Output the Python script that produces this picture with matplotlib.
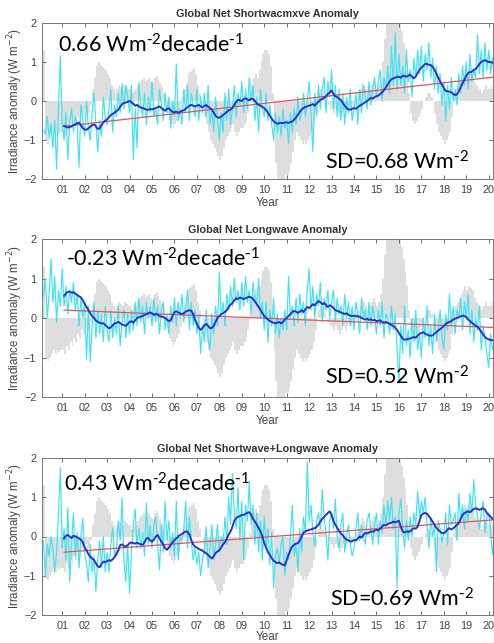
import numpy as np
import matplotlib
matplotlib.use("Agg")
import matplotlib.pyplot as plt

plt.rcParams["font.family"] = ["Liberation Sans", "DejaVu Sans"]

# monthly series start in March 2000; running means start in February 2001
start_year = 2000 + 2 / 12
mean_offset = 11

# ENSO-type index drawn as the grey background (same in every panel)
enso = [
    1.3, -1.0, -1.1, -1.0, -0.9, -0.8, -0.9, -0.8, -0.85, -0.8,
    -0.8, -0.9, -0.7, -0.8, -0.6, -0.7, -0.5, -0.6, -0.4, -0.5, -0.3, -0.4,
    -0.2, -0.4, -0.3, -0.1, 0.3, 0.6, 0.9, 1.0, 0.95, 0.9, 0.85, 0.8,
    0.7, 0.6, 0.4, 0.3, 0.2, 0.3, 0.4, 0.35, 0.3, 0.4, 0.35, 0.3,
    0.3, 0.2, 0.25, 0.3, 0.4, 0.5, 0.55, 0.6, 0.5, 0.55, 0.6, 0.5,
    0.45, 0.6, 0.65, 0.55, 0.45, 0.35, 0.2, 0.0, -0.3, -0.5, -0.6, -0.7,
    -0.6, -0.5, -0.4, -0.2, 0.1, 0.3, 0.5, 0.7, 0.75, 0.8, 0.85, 0.7,
    0.4, 0.2, 0.0, -0.2, -0.4, -0.6, -0.8, -1.0, -1.1, -1.2, -1.3, -1.4,
    -1.5, -1.4, -1.2, -1.0, -0.9, -0.8, -0.7, -0.6, -0.8, -0.9, -0.8, -0.7,
    -0.7, -0.6, -0.5, -0.3, 0.1, 0.4, 0.6, 0.7, 0.6, 0.8, 1.0, 1.2,
    1.3, 1.3, 1.2, 0.9, 0.2, -0.8, -1.6, -2.1, -2.2, -2.3, -2.0, -1.9,
    -1.9, -1.8, -1.6, -1.3, -1.0, -0.8, -0.9, -1.0, -1.1, -1.0, -1.1, -1.0,
    -0.9, -0.8, -0.6, -0.3, 0.0, 0.2, 0.3, 0.2, 0.1, 0.0, -0.1, -0.2,
    -0.2, -0.3, -0.2, -0.3, -0.4, -0.3, -0.2, -0.3, -0.2, -0.1, -0.2, -0.1,
    0.0, 0.1, 0.2, 0.3, 0.5, 0.4, 0.3, 0.2, 0.3, 0.4, 0.5, 0.4,
    0.3, 0.4, 0.6, 1.0, 1.6, 2.0, 2.1, 2.3, 2.4, 2.3, 2.2, 2.1,
    2.0, 1.8, 1.5, 1.2, 0.8, 0.2, -0.3, -0.5, -0.6, -0.5, -0.4, -0.3,
    -0.2, 0.0, 0.1, 0.2, 0.2, 0.1, 0.0, -0.3, -0.6, -0.8, -0.9, -1.0,
    -1.1, -1.0, -0.9, -0.8, -0.4, 0.1, 0.3, 0.4, 0.5, 0.6, 0.7, 0.8,
    0.7, 0.8, 0.75, 0.7, 0.5, 0.4, 0.3, 0.3, 0.2, 0.3, 0.4, 0.3,
    0.3, 0.4, 0.3, 0.2,
]

sw_monthly = [
    -0.75, -0.85, -0.40, -0.90, -0.60, -1.20, -0.50, -1.75, -0.20, 1.15,
    -0.60, -1.00, -0.30, -1.50, -0.50, -0.20, -0.80, -0.40, -0.60, -1.70, -0.10, -0.50,
    -0.90, 0.00, -0.70, -1.00, -0.30, 0.20, -0.60, -1.30, -0.50, -0.90, 0.10, -0.40,
    -0.60, -0.20, 0.30, -0.80, -0.10, -0.40, 0.20, -0.30, 0.45, -0.20, 0.40, 0.10,
    -0.30, 0.40, -1.50, -0.20, -1.20, 0.45, -0.10, -0.40, 0.20, -0.60, 0.10, -0.30,
    0.50, -0.40, -0.20, -0.60, 0.30, -0.10, -0.50, 0.20, -0.30, 0.10, -0.70, 0.00,
    -0.40, 0.95, -0.50, -0.20, -0.60, 0.30, -0.30, 0.40, -0.50, 0.20, -0.10, -0.40,
    0.30, -0.50, 0.10, -0.30, 0.20, -0.40, 0.40, -0.60, -0.20, -0.80, 0.10, -0.50,
    -1.00, -0.30, -0.80, 0.20, -0.50, 0.30, -0.60, -0.20, 0.40, -0.40, 0.20, -0.10,
    0.50, -0.30, 0.30, -0.20, 0.60, 0.00, 0.40, -0.50, 0.10, -0.80, 0.30, -0.20,
    -0.40, 0.20, -0.50, -0.10, -0.60, -1.00, -0.30, -0.80, -0.40, -0.90, -0.20, -0.70,
    -0.50, -1.10, -0.30, -0.80, -0.20, -0.60, 0.10, -0.50, -0.30, 0.20, -0.40, 0.00,
    0.50, -0.30, -1.30, 0.20, -0.40, 0.40, -0.20, 0.30, 0.60, -0.30, 0.50, 0.10,
    0.80, -0.20, 0.40, -0.40, 0.30, -0.50, 0.20, -0.60, 0.10, -0.30, 0.30, -0.50,
    -0.20, 0.20, -0.60, 0.30, -0.30, 0.40, 0.10, -0.20, 0.50, -0.10, 0.30, 0.60,
    0.10, 0.50, 0.80, 0.00, 0.60, 0.30, 0.90, 0.20, 1.40, 0.40, 1.75, 0.30,
    1.20, 0.40, 0.90, 0.20, 1.30, 0.50, 0.80, 0.10, 1.10, 0.60, 1.30, 0.70,
    1.40, 0.50, 1.20, 0.80, 1.50, 0.60, 1.10, 0.30, 0.90, 0.20, 0.70, -0.10,
    0.50, -0.50, 0.40, -0.20, 0.60, 0.00, 0.30, -0.10, 0.70, 0.20, 0.90, 0.40,
    1.00, 0.30, 1.20, 0.50, 0.80, 0.60, 1.70, 0.70, 1.30, 0.60, 1.50, 0.80,
    1.30, 0.70, 1.10, 0.60,
]

sw_mean = [
    -0.64, -0.66, -0.68, -0.67, -0.65, -0.62, -0.60, -0.57, -0.55, -0.62, -0.70,
    -0.73, -0.74, -0.70, -0.66, -0.62, -0.60, -0.65, -0.72, -0.70, -0.62, -0.55, -0.50,
    -0.47, -0.42, -0.36, -0.33, -0.30, -0.26, -0.22, -0.15, -0.08, -0.05, -0.04, -0.02,
    0.00, -0.03, -0.07, -0.12, -0.10, -0.14, -0.17, -0.18, -0.20, -0.22, -0.23, -0.20,
    -0.22, -0.20, -0.18, -0.16, -0.14, -0.18, -0.22, -0.25, -0.20, -0.19, -0.24, -0.28,
    -0.29, -0.27, -0.30, -0.28, -0.25, -0.24, -0.20, -0.16, -0.12, -0.10, -0.12, -0.14,
    -0.12, -0.10, -0.14, -0.16, -0.13, -0.10, -0.15, -0.18, -0.22, -0.30, -0.38, -0.42,
    -0.43, -0.40, -0.36, -0.32, -0.28, -0.24, -0.22, -0.18, -0.10, -0.02, 0.03, 0.02,
    0.00, 0.05, 0.07, 0.04, 0.02, 0.06, 0.05, 0.00, -0.06, -0.10, -0.12, -0.15,
    -0.18, -0.24, -0.30, -0.38, -0.45, -0.52, -0.56, -0.58, -0.57, -0.56, -0.57, -0.55,
    -0.55, -0.56, -0.54, -0.52, -0.48, -0.42, -0.35, -0.28, -0.22, -0.18, -0.15, -0.14,
    -0.12, -0.10, -0.08, -0.12, -0.06, -0.02, 0.03, 0.05, 0.08, 0.12, 0.18, 0.22,
    0.27, 0.18, 0.12, 0.10, 0.06, 0.02, -0.05, -0.12, -0.18, -0.22, -0.22, -0.20,
    -0.18, -0.20, -0.16, -0.12, -0.10, -0.06, -0.03, 0.00, 0.04, 0.08, 0.06, 0.10,
    0.12, 0.14, 0.18, 0.22, 0.28, 0.35, 0.42, 0.50, 0.56, 0.58, 0.60, 0.62,
    0.62, 0.60, 0.64, 0.65, 0.62, 0.65, 0.68, 0.62, 0.58, 0.63, 0.72, 0.80,
    0.86, 0.90, 0.95, 0.95, 0.93, 0.92, 0.88, 0.80, 0.70, 0.60, 0.50, 0.42,
    0.33, 0.26, 0.25, 0.24, 0.22, 0.18, 0.15, 0.17, 0.25, 0.35, 0.45, 0.55,
    0.65, 0.72, 0.74, 0.75, 0.80, 0.82, 0.88, 0.95, 1.00, 1.03, 1.05, 1.02,
    1.00, 1.00, 0.98, 0.98,
]

lw_monthly = [
    0.55, 1.00, 0.00, 0.60, 1.50, 0.40, 1.05, -0.10, 0.70, 0.30,
    1.25, 0.30, 0.80, 0.10, 0.70, 0.40, 0.90, 0.20, 0.60, -0.20, 0.50, 0.00,
    0.40, -1.05, 0.30, -1.10, -0.20, 0.40, -0.50, 0.20, -0.40, 0.10, -0.60, 0.30,
    -0.30, -0.60, 0.20, -0.50, 0.00, -0.40, 0.30, -0.70, -0.10, 0.20, -0.50, 0.10,
    -0.40, 0.20, -0.30, 0.40, -0.20, 0.50, -0.10, 0.30, -0.40, 0.40, 0.00, 0.30,
    -0.20, 0.50, -0.10, 0.30, -0.40, 0.20, 0.40, -0.30, 0.10, -0.40, 0.30, -0.10,
    0.50, -0.20, 0.40, 0.00, 0.60, -0.10, 0.30, 0.70, -0.30, 0.40, -0.20, 0.20,
    -0.40, 0.10, -0.90, -0.20, -0.60, 0.20, -0.50, -0.80, 0.10, -0.40, 0.30, -0.20,
    1.15, 0.00, 0.40, -0.20, 0.60, 0.20, 0.80, 0.30, 1.00, 0.40, 0.70, 0.20,
    0.90, 0.30, 1.05, 0.40, 0.70, 0.10, 0.90, 0.50, 0.30, 1.00, 0.00, 0.40,
    -0.30, 0.40, -0.60, 0.20, -0.20, 0.50, -0.40, 0.10, -0.50, 0.00, -0.30, 0.20,
    -0.30, 1.05, 0.00, 0.30, -0.20, 0.50, -0.10, 0.60, 0.10, 0.40, -0.20, 0.70,
    1.25, 0.20, 0.80, 0.00, 0.60, 0.30, 0.90, -0.10, 0.50, 0.20, 0.70, 0.00,
    0.40, 0.70, -0.10, 0.50, 0.10, 0.30, -0.20, 0.60, 0.00, 0.40, -0.20, 0.30,
    -0.30, 0.40, 0.10, -0.40, 0.50, 0.00, 0.20, -0.30, 0.40, -0.20, 0.30, 0.00,
    -0.40, 0.20, -0.20, 0.40, -0.50, 0.10, 0.00, -0.40, 0.30, -0.30, 0.10, -0.80,
    -1.60, -0.20, -0.90, 0.30, -0.70, -0.30, -1.00, 0.00, -0.60, 0.20, -0.80, -0.40,
    -1.00, 0.00, -0.50, 0.30, -0.70, -0.20, -0.90, 0.10, -0.60, -0.30, 0.20, -0.50,
    -0.80, 0.10, -0.30, 0.60, -0.20, 0.30, -0.40, 0.20, 0.00, 0.50, -0.30, 0.40,
    0.00, 0.60, -0.40, 0.20, -0.60, 0.00, -0.30, 0.30, -0.80, -0.20, -0.50, -0.90,
    -1.25, -0.40, -0.80, -0.60,
]

lw_mean = [
    0.56, 0.62, 0.66, 0.67, 0.64, 0.65, 0.62, 0.58, 0.55, 0.52, 0.45,
    0.36, 0.28, 0.20, 0.12, 0.05, 0.00, -0.06, -0.10, -0.12, -0.14, -0.13, -0.18,
    -0.22, -0.26, -0.24, -0.18, -0.14, -0.12, -0.10, -0.13, -0.17, -0.18, -0.20, -0.15,
    -0.10, -0.08, -0.12, -0.06, 0.00, 0.02, 0.03, 0.05, 0.08, 0.10, 0.12, 0.14,
    0.12, 0.08, 0.10, 0.09, 0.05, 0.04, 0.02, 0.00, -0.04, -0.08, -0.06, 0.05,
    0.15, 0.17, 0.14, 0.12, 0.10, 0.12, 0.16, 0.18, 0.20, 0.18, 0.10, -0.05,
    -0.15, -0.25, -0.30, -0.25, -0.18, -0.15, -0.20, -0.26, -0.25, -0.20, -0.10, 0.00,
    0.05, 0.10, 0.12, 0.16, 0.20, 0.28, 0.34, 0.38, 0.45, 0.50, 0.48, 0.52,
    0.50, 0.48, 0.50, 0.52, 0.54, 0.52, 0.48, 0.42, 0.35, 0.28, 0.20, 0.12,
    0.05, 0.00, -0.04, -0.08, -0.10, -0.12, -0.13, -0.12, -0.10, -0.14, -0.10, -0.04,
    0.00, 0.05, 0.10, 0.15, 0.18, 0.16, 0.13, 0.16, 0.20, 0.15, 0.22, 0.28,
    0.25, 0.30, 0.35, 0.32, 0.38, 0.43, 0.40, 0.35, 0.38, 0.33, 0.28, 0.32,
    0.30, 0.25, 0.20, 0.18, 0.16, 0.14, 0.12, 0.10, 0.12, 0.08, 0.06, 0.05,
    0.06, 0.04, 0.05, 0.03, 0.00, -0.02, -0.04, -0.02, -0.05, -0.03, -0.06, -0.05,
    -0.08, -0.07, -0.06, -0.10, -0.12, -0.10, -0.12, -0.15, -0.18, -0.20, -0.25, -0.30,
    -0.38, -0.45, -0.52, -0.55, -0.54, -0.53, -0.52, -0.50, -0.48, -0.50, -0.45, -0.40,
    -0.38, -0.36, -0.40, -0.42, -0.44, -0.45, -0.44, -0.40, -0.36, -0.32, -0.28, -0.25,
    -0.20, -0.15, -0.12, -0.10, -0.08, -0.04, -0.02, 0.00, 0.02, 0.04, 0.06, 0.05,
    0.02, -0.04, -0.08, -0.12, -0.16, -0.20, -0.22, -0.28, -0.35, -0.42, -0.48, -0.52,
    -0.54, -0.56, -0.56, -0.57,
]

net_monthly = [
    -0.10, -1.05, -0.20, -0.50, 0.00, -0.30, -0.90, -0.40, 0.60, 1.75,
    -0.30, 0.20, -0.60, 0.73, -1.15, -0.20, 0.60, -0.50, 0.10, -0.80, 0.00, 0.46,
    -0.40, -0.70, -1.15, -0.20, -0.90, -0.50, -1.40, -0.60, -0.10, -0.80, 0.00, -0.90,
    -0.40, -0.90, -0.20, 0.22, -0.50, -0.30, 0.40, -0.10, 0.98, -0.60, -1.15, -0.20,
    -1.45, -0.40, 0.30, 0.70, -0.30, 0.20, -0.30, 0.10, -0.50, 0.85, -0.20, 0.30,
    -0.30, 0.30, 0.50, -0.20, -0.85, 0.30, -0.40, 0.90, -0.10, 0.40, -0.30, 0.10,
    -0.50, 0.90, -0.60, 0.00, -0.10, 0.20, 0.90, -0.30, 0.50, -0.10, -0.60, -0.30,
    -0.70, -0.40, -1.00, -0.60, -0.30, 0.25, -0.80, -0.30, 0.30, -0.60, -0.20, 0.30,
    -0.40, 0.00, -0.20, 0.50, -0.20, 1.00, 0.30, 1.60, 0.60, 0.20, 1.25, -0.10,
    0.90, -0.60, 0.80, 0.40, 1.40, 0.30, 0.80, -0.20, 0.60, -0.40, 0.40, -0.60,
    0.50, -0.30, 0.20, -0.72, 0.10, -1.30, -0.50, -0.30, -0.70, -0.20, 0.00, -1.00,
    -0.40, -0.60, 0.00, 0.80, -0.50, -0.20, -0.90, 0.20, -0.40, 0.50, 0.10, 1.90,
    0.38, 0.80, 0.10, -0.25, 0.40, 0.60, 0.20, 1.20, 0.50, 0.10, -0.60, 0.40,
    0.60, 0.20, 0.95, 0.00, -0.30, 0.30, 0.60, -0.40, 0.00, 0.30, -0.20, -0.50,
    -0.30, 0.20, 0.60, -0.10, 0.30, 0.00, -0.20, 0.40, 0.60, 0.20, -0.20, 0.30,
    0.60, -0.20, 0.40, 0.10, 0.80, 0.30, 0.90, 0.40, 1.00, 0.20, 0.50, -1.30,
    0.60, 0.95, 0.20, -0.30, 0.40, -0.10, 0.50, 0.00, 0.60, 0.30, 1.15, 0.50,
    0.90, 0.60, 1.00, 0.30, -0.30, 0.50, 0.00, 0.30, -0.90, 0.40, 0.20, -0.15,
    0.10, 0.60, -0.20, 0.80, 0.30, 0.40, 0.60, -0.10, 1.10, 0.40, 0.80, 0.20,
    0.70, 0.40, 1.10, 0.60, 1.45, 0.80, 0.50, 0.20, 0.60, 0.90, 0.10, 0.50,
    0.60, 0.15, -0.47, 0.10,
]

net_mean = [
    -0.05, 0.02, 0.04, 0.00, -0.04, 0.02, 0.00, -0.02, -0.05, -0.08, -0.15,
    -0.28, -0.35, -0.45, -0.52, -0.56, -0.60, -0.68, -0.76, -0.78, -0.70, -0.64, -0.65,
    -0.63, -0.60, -0.62, -0.58, -0.52, -0.45, -0.35, -0.22, -0.20, -0.25, -0.26, -0.22,
    -0.17, -0.15, -0.17, -0.18, -0.16, -0.18, -0.20, -0.21, -0.15, -0.05, -0.04, -0.10,
    -0.13, -0.08, 0.00, 0.04, -0.05, -0.13, -0.20, -0.30, -0.34, -0.28, -0.21, -0.15,
    -0.09, -0.05, 0.00, 0.04, 0.06, 0.10, 0.13, 0.12, 0.05, -0.09, -0.20, -0.26,
    -0.28, -0.32, -0.34, -0.36, -0.40, -0.43, -0.47, -0.52, -0.56, -0.50, -0.42, -0.38,
    -0.35, -0.28, -0.20, -0.15, -0.05, 0.05, 0.13, 0.25, 0.40, 0.47, 0.50, 0.52,
    0.55, 0.55, 0.58, 0.60, 0.62, 0.55, 0.45, 0.38, 0.30, 0.22, 0.13, 0.00,
    -0.17, -0.28, -0.40, -0.47, -0.55, -0.62, -0.65, -0.68, -0.66, -0.70, -0.72, -0.74,
    -0.60, -0.47, -0.35, -0.25, -0.21, -0.18, -0.17, -0.10, 0.00, 0.10, 0.13, 0.15,
    0.17, 0.18, 0.20, 0.21, 0.25, 0.30, 0.38, 0.45, 0.50, 0.55, 0.60, 0.64,
    0.55, 0.40, 0.30, 0.22, 0.13, 0.08, 0.03, -0.04, -0.08, -0.10, -0.13, -0.12,
    -0.09, -0.10, -0.05, 0.00, -0.03, 0.04, 0.09, 0.08, 0.10, 0.13, 0.12, 0.15,
    0.17, 0.16, 0.20, 0.25, 0.30, 0.28, 0.32, 0.34, 0.35, 0.38, 0.36, 0.38,
    0.40, 0.25, 0.13, 0.10, 0.13, 0.12, 0.13, 0.18, 0.21, 0.20, 0.25, 0.40,
    0.55, 0.58, 0.60, 0.58, 0.52, 0.45, 0.38, 0.30, 0.22, 0.17, 0.12, 0.09,
    0.08, 0.12, 0.18, 0.21, 0.18, 0.21, 0.25, 0.30, 0.34, 0.45, 0.55, 0.60,
    0.62, 0.64, 0.62, 0.66, 0.70, 0.72, 0.70, 0.68, 0.70, 0.72, 0.68, 0.60,
    0.55, 0.50, 0.45, 0.43,
]

titles = [
    "Global Net Shortwacmxve Anomaly",
    "Global Net Longwave Anomaly",
    "Global Net Shortwave+Longwave Anomaly",
]
trend_per_decade = [0.66, -0.23, 0.43]
trend_start = [-0.65, 0.20, -0.40]
trend_years = [2001.08, 2020.3]
sd_values = [0.68, 0.52, 0.69]
year_ticks = list(range(2001, 2021))
year_labels = ["%02d" % (y - 2000) for y in year_ticks]

monthly = [sw_monthly, lw_monthly, net_monthly]
means = [sw_mean, lw_mean, net_mean]

t = start_year + np.arange(len(enso)) / 12

fig = plt.figure(figsize=(4.94, 6.43), dpi=100)
W, H = 494, 643
# axes boxes in pixels: (left, top, right, bottom)
boxes = [(42, 23, 493, 179), (42, 239, 493, 397), (42, 458, 493, 615)]
xlabel_pad = [2, 2, 0.5]
# annotation positions in data coords
slope_xy = [(2000.8, 1.45), (2001.15, 1.5), (2001.1, 1.35)]
sd_xy = [(2012.7, -1.55), (2012.7, -1.48), (2012.95, -1.6)]

sup2 = r"$\mathregular{^{\text{-}2}}$"
sup1 = r"$\mathregular{^{\text{-}1}}$"

for i in range(3):
    l, tp, r, b = boxes[i]
    ax = fig.add_axes([l / W, 1 - b / H, (r - l) / W, (b - tp) / H])

    ax.bar(t, enso, width=1 / 12, align="edge", color="#dedede", linewidth=0)
    ax.plot(t, monthly[i], color="#3de3f0", lw=0.85)
    tr = np.array(trend_years)
    ax.plot(tr, trend_start[i] + trend_per_decade[i] * (tr - tr[0]) / 10,
            color="#f25050", lw=0.9)
    ax.plot(t[mean_offset:], means[i], color="#2a2fd4", lw=1.4)

    ax.set_xlim(2000.1, 2020.19)
    ax.set_ylim(-2, 2)
    ax.set_xticks(year_ticks)
    ax.set_xticklabels(year_labels)
    ax.set_yticks([-2, -1, 0, 1, 2])
    ax.tick_params(direction="in", top=True, right=True, length=3, width=0.6,
                   color="#555555", labelsize=7.8, labelcolor="#444444", pad=4)
    for s in ax.spines.values():
        s.set_color("#777777")
        s.set_linewidth(0.7)

    ax.set_title(titles[i], fontsize=7.8, fontweight="bold", color="#333333", pad=4)
    ax.set_xlabel("Year", fontsize=8.5, color="#444444", labelpad=xlabel_pad[i])
    ax.set_ylabel(r"Irradiance anomaly (W m$^{-2}$)", fontsize=8.3, color="#444444")
    ax.yaxis.set_label_coords(-0.038, 0.5)

    sx, sy = slope_xy[i]
    ax.text(sx, sy, "%.2f Wm" % trend_per_decade[i] + sup2 + "decade" + sup1,
            fontsize=15.5, family="Lato", ha="left", va="center", color="black")
    dx, dy = sd_xy[i]
    ax.text(dx, dy, "SD=%.2f Wm" % sd_values[i] + sup2,
            fontsize=15.5, family="Lato", ha="left", va="center", color="black")

fig.savefig("out.png", dpi=100)
